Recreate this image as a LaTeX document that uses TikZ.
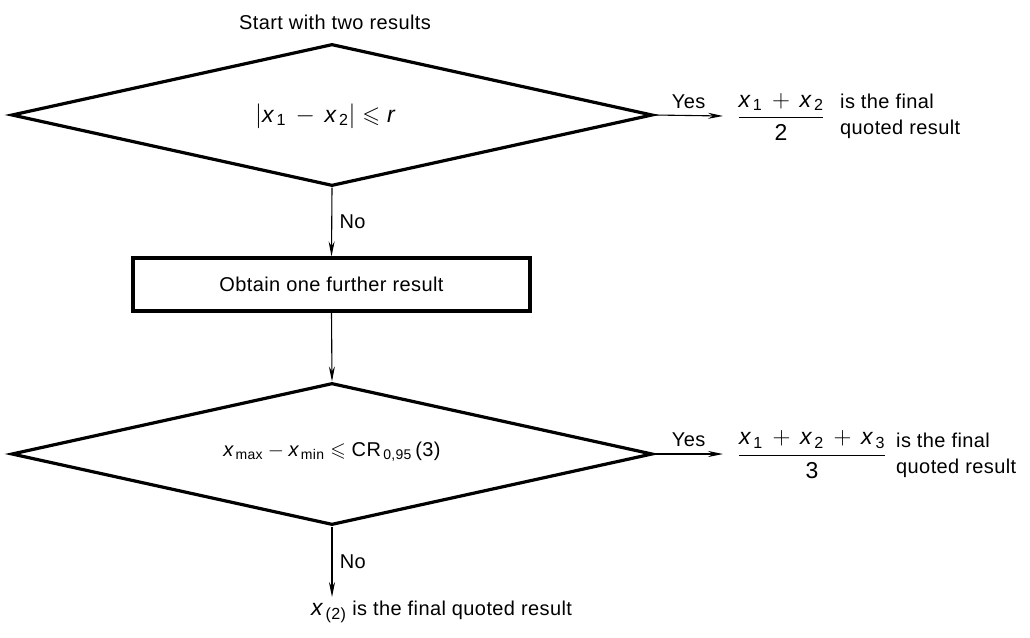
\documentclass[tikz,border=0pt]{standalone}
\usepackage{amsmath}
\usepackage{amssymb}
\usepackage{fontspec}
\setmainfont{Liberation Sans}[LetterSpace=2]
\usetikzlibrary{arrows.meta,shapes.geometric}
\newcommand{\vx}{\textit{x}}
\newcommand{\subt}[1]{_{\,\text{#1}}}
\begin{document}
\begin{tikzpicture}[x=1pt,y=-1pt,
  every node/.style={font=\fontsize{20}{26}\selectfont},
  mathtxt/.style={inner sep=0pt, font=\fontsize{23}{28}\selectfont},
  dec/.style={draw, line width=3.2pt, shape=diamond, minimum width=641pt, minimum height=142pt, inner sep=0pt},
  procbox/.style={draw, line width=3.2pt, minimum width=397pt, minimum height=53pt, inner sep=0pt},
  flow/.style={line width=1.1pt, -{Stealth[length=15pt,width=6pt]}},
  lbl/.style={inner sep=0pt}]
\useasboundingbox (0,0) rectangle (1030,637);
\node[lbl] (start) at (335,22) {Start with two results};
\node[dec] (d1) at (332,115) {};
\node[mathtxt] (c1) at (325,116) {$|\vx\subt{1} \,-\, \vx\subt{2}| \leqslant \textit{r}$};
\node[procbox] (box) at (331.5,284.5) {Obtain one further result};
\node[dec] (d2) at (332,454) {};
\node[mathtxt, font=\fontsize{20}{26}\selectfont] (c2) at (332,452) {$\vx\subt{max} - \vx\subt{min} \leqslant \text{CR}\subt{0,95}\,\text{(3)}$};
\coordinate (y1) at (723,116);
\coordinate (y2) at (723,454);
\coordinate (e3) at (332,597);
\node[mathtxt] (f1) at (781,117) {$\dfrac{\vx\subt{1} \,+\, \vx\subt{2}}{\text{2}}$};
\node[lbl, anchor=west, align=left] (t1) at (840,116) {is the final\\quoted result};
\node[mathtxt] (f2) at (812,455) {$\dfrac{\vx\subt{1} \,+\, \vx\subt{2} \,+\, \vx\subt{3}}{\text{3}}$};
\node[lbl, anchor=west, align=left] (t2) at (896,455) {is the final\\quoted result};
\node[lbl, anchor=west] (final) at (311,612) {{\fontsize{23}{28}\selectfont$\vx\subt{(2)}$} is the final quoted result};
\draw[flow] (d1.south) -- (box.north) node[midway, right=4pt] {No};
\draw[flow] (box.south) -- (d2.north);
\draw[flow] (d2.south) -- (e3) node[midway, right=4pt] {No};
\draw[flow] (d1.east) -- (y1) node[midway, above=3pt] {Yes};
\draw[flow] (d2.east) -- (y2) node[midway, above=3pt] {Yes};
\end{tikzpicture}
\end{document}
